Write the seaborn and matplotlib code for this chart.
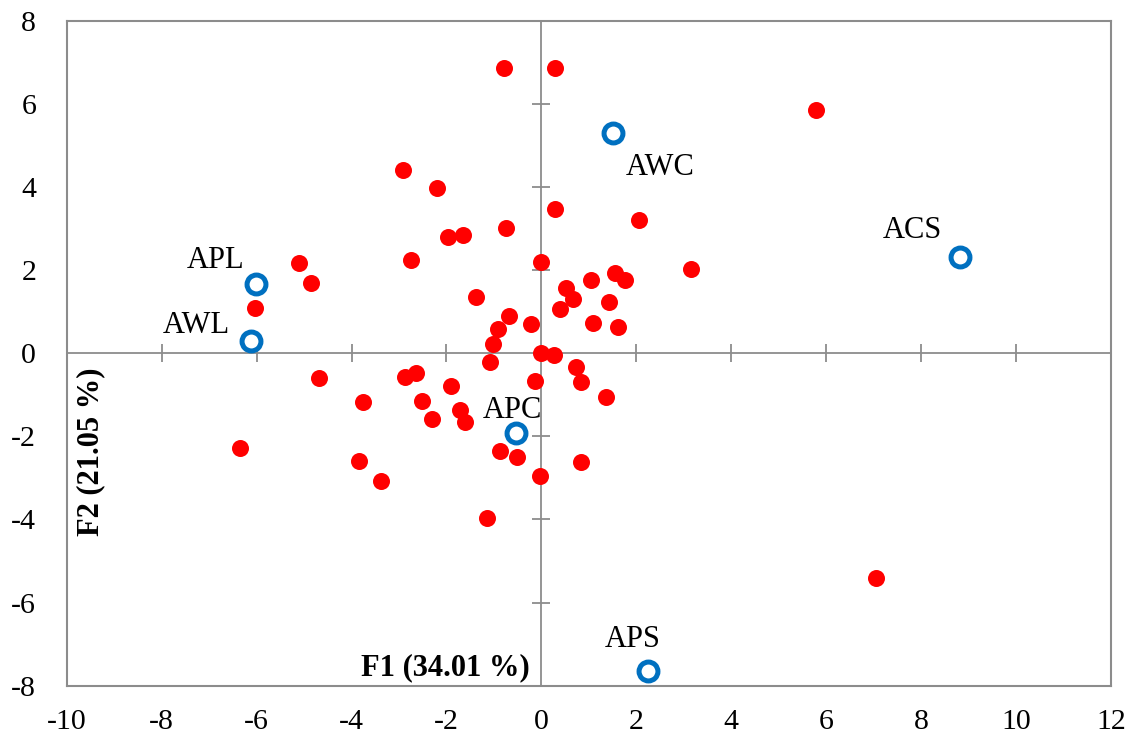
import matplotlib
matplotlib.use("Agg")
import matplotlib.pyplot as plt
import seaborn as sns
import pandas as pd

# ---- data ----
obs_f1 = [-0.79, 0.29, -2.91, -2.21, 0.29, 2.06, -0.74, -1.97, -1.65, -2.75,
          0.00, 3.15, 1.55, 1.76, 1.05, 0.51, 0.67, 1.42, -1.37, 0.39,
          -0.68, -0.91, -0.21, 1.09, 1.62, -1.02, -1.09, 0.00, 0.26, 0.73,
          -2.88, -2.65, -1.91, -0.14, 0.83, -2.51, 1.37, -1.72, -2.30, -1.61,
          -0.88, -0.51, 0.83, -0.04, -3.37, -1.15, -4.69, -3.76, -6.35, -3.84,
          -5.10, -4.85, -6.04, 5.78, 7.04]
obs_f2 = [6.88, 6.88, 4.41, 3.97, 3.47, 3.22, 3.02, 2.79, 2.85, 2.24,
          2.19, 2.02, 1.93, 1.76, 1.76, 1.58, 1.31, 1.24, 1.35, 1.07,
          0.90, 0.59, 0.71, 0.74, 0.64, 0.22, -0.20, 0.00, -0.05, -0.33,
          -0.57, -0.47, -0.78, -0.67, -0.70, -1.16, -1.06, -1.37, -1.59, -1.65,
          -2.35, -2.49, -2.62, -2.96, -3.07, -3.97, -0.59, -1.18, -2.28, -2.60,
          2.18, 1.69, 1.09, 5.87, -5.40]

var_names = ["APL", "AWL", "AWC", "ACS", "APC", "APS"]
var_f1 = [-6.02, -6.11, 1.51, 8.81, -0.53, 2.25]
var_f2 = [1.68, 0.30, 5.30, 2.31, -1.93, -7.64]

x_ticks = [-10, -8, -6, -4, -2, 0, 2, 4, 6, 8, 10, 12]
y_ticks = [-8, -6, -4, -2, 0, 2, 4, 6, 8]
x_title = "F1 (34.01 %)"
y_title = "F2 (21.05 %)"

# ---- styling / layout ----
label_offsets = {"APL": (-29, 11), "AWL": (-40, 5.5), "AWC": (34, -30),
                 "ACS": (-34, 14), "APC": (-3, 11), "APS": (-11, 17)}

sns.set_theme(style="white")
plt.rcParams["font.family"] = ["Liberation Serif", "DejaVu Serif"]

fig = plt.figure(figsize=(11.35, 7.38), dpi=100)
ax = fig.add_axes([0.0588, 0.0710, 0.9201, 0.9005])

grey = "#8c8c8c"
ax.axhline(0, color=grey, lw=1.3, zorder=1)
ax.axvline(0, color=grey, lw=1.3, zorder=1)
inner_x = [t for t in x_ticks if t not in (0, x_ticks[0], x_ticks[-1])]
inner_y = [t for t in y_ticks if t not in (0, y_ticks[0], y_ticks[-1])]
ax.plot(inner_x, [0] * len(inner_x), ls="none", marker="|", ms=13.5,
        mew=1.3, color=grey, zorder=1)
ax.plot([0] * len(inner_y), inner_y, ls="none", marker="_", ms=13.5,
        mew=1.3, color=grey, zorder=1)

obs = pd.DataFrame({"F1": obs_f1, "F2": obs_f2})
var = pd.DataFrame({"F1": var_f1, "F2": var_f2, "name": var_names})

sns.scatterplot(data=obs, x="F1", y="F2", ax=ax, color="#ff0000", s=150,
                linewidth=0, zorder=3)
sns.scatterplot(data=var, x="F1", y="F2", ax=ax, facecolor="white",
                edgecolor="#0070c0", s=185, linewidth=3.6, zorder=4)

for n, x, y in zip(var_names, var_f1, var_f2):
    ax.annotate(n, (x, y), xytext=label_offsets[n], textcoords="offset points",
                ha="center", va="baseline", fontsize=22, color="black",
                zorder=5)

ax.set_xlim(x_ticks[0], x_ticks[-1])
ax.set_ylim(y_ticks[0], y_ticks[-1])
ax.set_xticks(x_ticks)
ax.set_yticks(y_ticks)
ax.set_xticklabels([str(t) for t in x_ticks])
ax.set_yticklabels([str(t) for t in y_ticks])
ax.tick_params(axis="both", length=0, labelsize=21.5, colors="black")
ax.tick_params(axis="x", pad=17)
ax.tick_params(axis="y", pad=22)
ax.set_xlabel("")
ax.set_ylabel("")
for sp in ax.spines.values():
    sp.set_color(grey)
    sp.set_linewidth(1.5)

ax.text(-0.245, -7.74, x_title, ha="right", va="baseline", fontsize=22,
        fontweight="bold", color="black", zorder=5)
ax.text(-9.49, -0.33, y_title, ha="center", va="top", rotation=90,
        fontsize=22, fontweight="bold", color="black", zorder=5)

fig.savefig("out.png", dpi=100)
